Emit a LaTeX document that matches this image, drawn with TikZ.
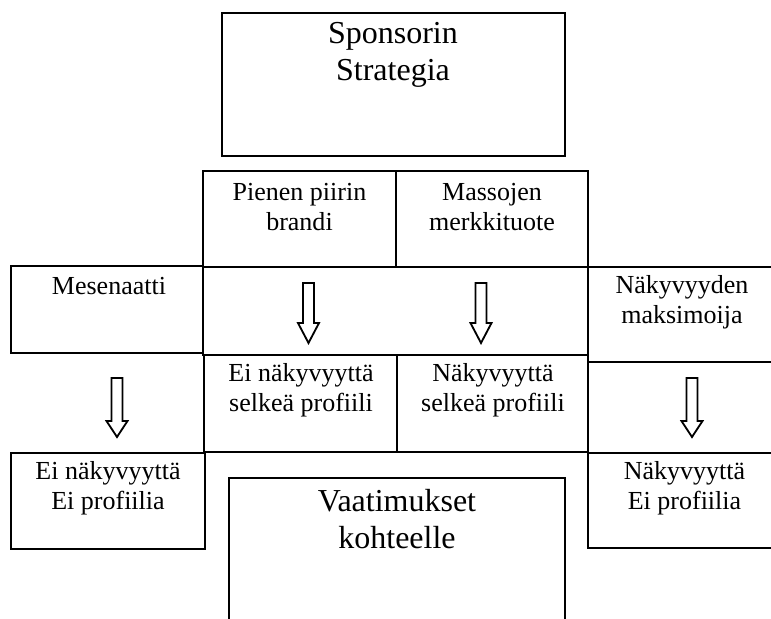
\documentclass[tikz,border=0pt]{standalone}
\usepackage{fontspec}
\setmainfont{Liberation Serif}
\usetikzlibrary{calc}
\def\hollowarrow(#1)(#2:#3){\draw[arrowline] ($(#1)+(-5.5,0)$) -- ++(0,#2) -- ++(-5,0) -- ($(#1)+(0,#2+#3)$) -- ($(#1)+(10.5,#2)$) -- ++(-5,0) -- ++(0,-#2) -- cycle;}

\begin{document}
\begin{tikzpicture}[x=0.03cm,y=-0.03cm,
	box/.style={line width=0.08cm},
	arrowline/.style={line width=0.055cm, line join=miter},
	txt/.style={font=\fontsize{22.2}{25.6}\selectfont, align=center, inner sep=0pt},
	bigtxt/.style={font=\fontsize{27.3}{31.6}\selectfont, align=center, inner sep=0pt}]
			%%%%% FRAME %%%%%
			\useasboundingbox (0,0) rectangle (771,619);
			\clip (0,0) rectangle (771,619);
			
			%%%%% BOXES %%%%%
			\draw[box] (222,13) rectangle (565,156);
			
			\draw[box] (203,171) rectangle (396,267);
			\draw[box] (396,171) rectangle (588,267);
			
			\draw[box] (11,266) rectangle (203,353);
			\draw[box] (203,267) rectangle (588,355);
			\draw[box] (588,267) rectangle (790,362);
			
			\draw[box] (204,355) rectangle (397,452);
			\draw[box] (397,355) rectangle (588,452);
			\draw[box] (588,362) rectangle (790,453);
			
			\draw[box] (11,453) rectangle (205,549);
			\draw[box] (588,453) rectangle (790,548);
			
			\draw[box] (229,478) rectangle (565,640);
			
			%%%%% TEXTS %%%%%
			\node[bigtxt] (sponsori) at (393,55) {Sponsorin\\Strategia};
			
			\node[txt] (pienen) at (299.5,207) {Pienen piirin\\brandi};
			\node[txt] (massat) at (492,207) {Massojen\\merkkituote};
			
			\node[txt] (mesenaatti) at (109,286) {Mesenaatti};
			\node[txt] (maksimoija) at (682,302) {Näkyvyyden\\maksimoija};
			
			\node[txt] (einakprof) at (301,390) {Ei näkyvyyttä\\selkeä profiili};
			\node[txt] (nakprof) at (493,390) {Näkyvyyttä\\selkeä profiili};
			
			\node[txt] (einakei) at (108,488) {Ei näkyvyyttä\\Ei profiilia};
			\node[txt] (nakei) at (684.5,488) {Näkyvyyttä\\Ei profiilia};
			
			\node[bigtxt] (vaatimukset) at (397,519) {Vaatimukset\\kohteelle};
			
			%%%%% ARROWS %%%%%
			\coordinate (nuoliA) at (308.5,283);
			\coordinate (nuoliB) at (481,283);
			\coordinate (nuoliC) at (117,378);
			\coordinate (nuoliD) at (692,378);
			
			\hollowarrow(nuoliA)(40:20)
			\hollowarrow(nuoliB)(40:20)
			\hollowarrow(nuoliC)(43:16)
			\hollowarrow(nuoliD)(43:16)
			
\end{tikzpicture}
\end{document}
